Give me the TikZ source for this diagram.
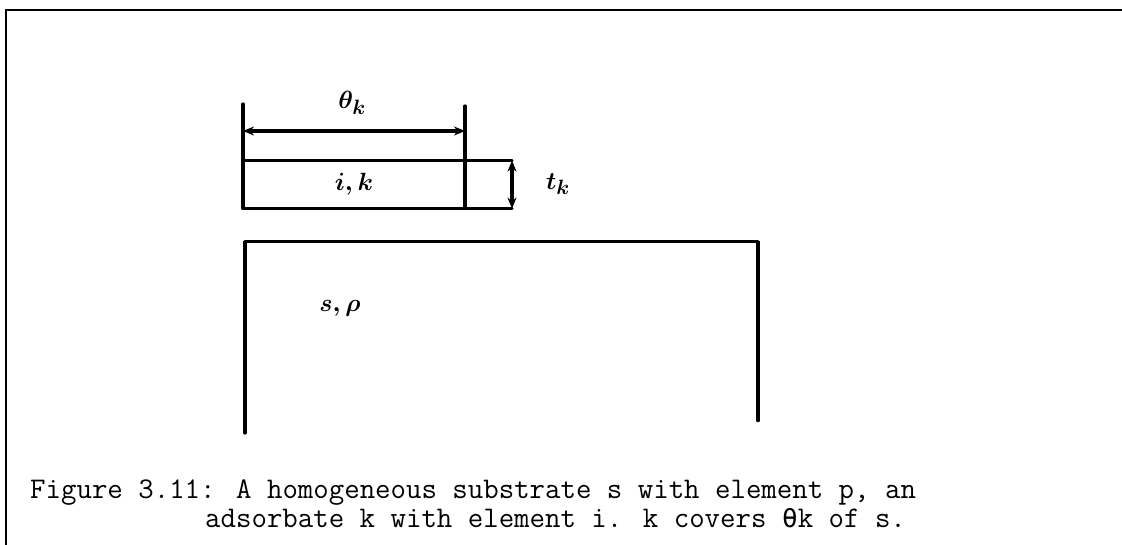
\documentclass[tikz,border=0pt]{standalone}
\usepackage{fontspec}
\usepackage{amsmath}
\usepackage{tikz}
\usetikzlibrary{arrows.meta,positioning}
\newfontfamily\thetafont{DejaVu Sans Mono}

\begin{document}
\begin{tikzpicture}[x=1pt,y=-1pt,
    hand/.style={line width=3.2pt,line cap=round,line join=round},
    dimarrow/.style={hand,{Stealth[length=11pt,width=9pt]}-{Stealth[length=11pt,width=9pt]}},
    lab/.style={font=\fontsize{32}{36}\selectfont\boldmath,inner sep=0pt},
    captxt/.style={font=\ttfamily\fontsize{30}{30}\selectfont,inner sep=0pt,anchor=base west}
  ]
    \useasboundingbox (0,0) rectangle (1122,545);
    % frame
    \draw[line width=2pt] (6,545) -- (6,10.5) -- (1122,10.5);

    % adsorbate layer
    \node[hand,draw,minimum width=222pt,minimum height=48pt,inner sep=0pt,outer sep=0pt,lab] (ads) at (354,184.6) {$i,k$};
    \coordinate (thL) at (243,104);
    \coordinate (thR) at (465,106);
    \coordinate (aL) at (243,131);
    \coordinate (aR) at (465,131);
    \coordinate (tkT) at (512,160.6);
    \coordinate (tkB) at (512,208.6);
    \draw[hand] (ads.north west) -- (thL);
    \draw[hand] (ads.north east) -- (thR);
    \draw[dimarrow] (aL) -- (aR);
    \draw[hand] (ads.north east) -- (tkT);
    \draw[hand] (ads.south east) -- (tkB);
    \draw[dimarrow] (tkT) -- (tkB);
    \node[lab] (theta) at (352,103) {$\theta_k$};
    \node[lab] (tk) at (558,184) {$t_k$};

    % substrate
    \coordinate (sBL) at (245,433);
    \coordinate (sTL) at (245,241.6);
    \coordinate (sTR) at (758,241.6);
    \coordinate (sBR) at (758,420.6);
    \draw[hand] (sBL) -- (sTL) -- (sTR) -- (sBR);
    \node[lab] (sub) at (340,308) {$s,\rho$};

    % caption
    \node[captxt] (cap1) at (30,498) {Figure 3.11: A homogeneous substrate s with element p, an};
    \node[captxt] (cap2) at (205,527) {adsorbate k with element i. k covers \makebox[15.75pt]{\thetafont\fontsize{26}{30}\selectfont θ}k of s.};
\end{tikzpicture}
\end{document}
